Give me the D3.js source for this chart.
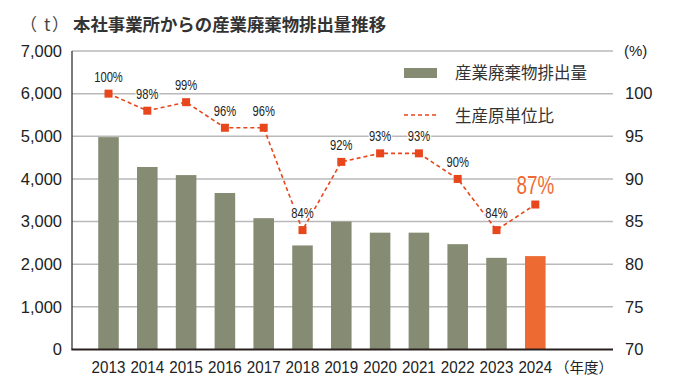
<!DOCTYPE html>
<html>
<head>
<meta charset="utf-8">
<script src="https://cdn.jsdelivr.net/npm/d3@7"></script>
<style>
  html, body { margin: 0; padding: 0; background: #fff; }
  svg { display: block; }
  text { font-family: "Liberation Sans", Arial, "Noto Sans CJK JP", sans-serif; }
  .jp { font-family: "Noto Sans CJK JP", sans-serif; }
</style>
</head>
<body>
<svg id="chart" width="685" height="390"></svg>
<script>
// ---- data ----
const years = ["2013","2014","2015","2016","2017","2018","2019","2020","2021","2022","2023","2024"];
const waste = [4980, 4280, 4090, 3670, 3080, 2440, 3000, 2740, 2740, 2470, 2150, 2190];
const ratio = [100, 98, 99, 96, 96, 84, 92, 93, 93, 90, 84, 87];
const leftTicks = [0, 1000, 2000, 3000, 4000, 5000, 6000, 7000];
const rightTicks = [70, 75, 80, 85, 90, 95, 100];
const titleUnitParts = ["（", "t", "）"];
const titleText = "本社事業所からの産業廃棄物排出量推移";
const legendBar = "産業廃棄物排出量";
const legendLine = "生産原単位比";
const xUnit = "（年度）";
const rightUnit = "(%)";

// ---- layout ----
const svg = d3.select("#chart");
const plotL = 72, plotR = 613, plotT = 51, plotB = 349.5;

const x = d3.scaleBand().domain(years).range([89.1, 554.7]).paddingInner(0.47).paddingOuter(0.235);
const yL = d3.scaleLinear().domain([0, 7000]).range([plotB, plotT]);
const yR = d3.scaleLinear().domain([70, 105]).range([plotB, plotT]);
const cx = d => x(d) + x.bandwidth() / 2;

const barColor = "#868b74", lastColor = "#ee6a33", lineColor = "#e8461c";

// grid lines
svg.append("g").selectAll("line").data(leftTicks.filter(t => t > 0)).join("line")
  .attr("x1", plotL).attr("x2", plotR)
  .attr("y1", d => yL(d)).attr("y2", d => yL(d))
  .attr("stroke", "#b9b9b9").attr("stroke-width", 1.5);

// bars
svg.append("g").selectAll("rect").data(years).join("rect")
  .attr("x", d => x(d))
  .attr("width", x.bandwidth())
  .attr("y", (d, i) => yL(waste[i]))
  .attr("height", (d, i) => plotB - yL(waste[i]))
  .attr("fill", (d, i) => i === years.length - 1 ? lastColor : barColor);

// axes lines
svg.append("line").attr("x1", plotL).attr("x2", plotL).attr("y1", plotT).attr("y2", plotB)
  .attr("stroke", "#333").attr("stroke-width", 1.3);
svg.append("line").attr("x1", plotL - 0.6).attr("x2", plotR).attr("y1", plotB).attr("y2", plotB)
  .attr("stroke", "#2a2020").attr("stroke-width", 2);

// left axis labels
svg.append("g").selectAll("text").data(leftTicks).join("text")
  .attr("x", 62).attr("y", d => yL(d)).attr("dy", "0.35em")
  .attr("text-anchor", "end").attr("font-size", 16.5).attr("fill", "#222")
  .text(d => d3.format(",")(d));

// right axis labels
svg.append("g").selectAll("text").data(rightTicks).join("text")
  .attr("x", 625).attr("y", d => yR(d)).attr("dy", "0.35em")
  .attr("font-size", 16.5).attr("fill", "#222")
  .text(d => d);
svg.append("text").attr("x", 624).attr("y", yR(105)).attr("dy", "0.35em")
  .attr("font-size", 15).attr("fill", "#222").text(rightUnit);

// x labels
svg.append("g").selectAll("text").data(years).join("text")
  .attr("transform", d => `translate(${cx(d)},373) scale(0.92,1)`)
  .attr("text-anchor", "middle").attr("font-size", 16.5).attr("fill", "#222")
  .text(d => d);
svg.append("text").attr("class", "jp").attr("x", 613).attr("y", 373)
  .attr("text-anchor", "end").attr("font-size", 14.5).attr("fill", "#222").text(xUnit);

// line
const line = d3.line().x((d, i) => cx(years[i])).y(d => yR(d));
svg.append("path").datum(ratio).attr("d", line)
  .attr("fill", "none").attr("stroke", lineColor).attr("stroke-width", 1.6)
  .attr("stroke-dasharray", "4,3");
svg.append("g").selectAll("rect").data(ratio).join("rect")
  .attr("x", (d, i) => cx(years[i]) - 4).attr("y", d => yR(d) - 4)
  .attr("width", 8).attr("height", 8).attr("fill", lineColor);

// point labels
svg.append("g").selectAll("text").data(ratio).join("text")
  .attr("transform", (d, i) => {
    const last = i === ratio.length - 1;
    return `translate(${cx(years[i])},${yR(d) - (last ? 11 : 12)}) scale(${last ? 0.74 : 0.8},1)`;
  })
  .attr("text-anchor", "middle")
  .attr("font-size", (d, i) => i === ratio.length - 1 ? 25.5 : 14)
  .attr("fill", (d, i) => i === ratio.length - 1 ? lastColor : "#222")
  .attr("stroke", "#fff").attr("stroke-width", 3).attr("paint-order", "stroke")
  .text(d => d + "%");

// legend
svg.append("rect").attr("x", 404).attr("y", 68).attr("width", 33).attr("height", 10).attr("fill", barColor);
svg.append("text").attr("class", "jp").attr("x", 455).attr("y", 73.5).attr("dy", "0.36em")
  .attr("font-size", 16.5).attr("fill", "#333").text(legendBar);
svg.append("line").attr("x1", 404).attr("x2", 437).attr("y1", 115).attr("y2", 115)
  .attr("stroke", lineColor).attr("stroke-width", 1.6).attr("stroke-dasharray", "4,3");
svg.append("text").attr("class", "jp").attr("x", 455).attr("y", 116.5).attr("dy", "0.36em")
  .attr("font-size", 16.5).attr("fill", "#333").text(legendLine);

// title
const unitX = [20, 44, 52];
svg.append("g").selectAll("text").data(titleUnitParts).join("text")
  .attr("class", "jp").attr("x", (d, i) => unitX[i]).attr("y", 31)
  .attr("font-size", 17).attr("fill", "#444").text(d => d);
svg.append("text").attr("class", "jp").attr("x", 73).attr("y", 31)
  .attr("font-size", 17.4).attr("font-weight", "bold").attr("fill", "#333").text(titleText);
</script>
</body>
</html>
